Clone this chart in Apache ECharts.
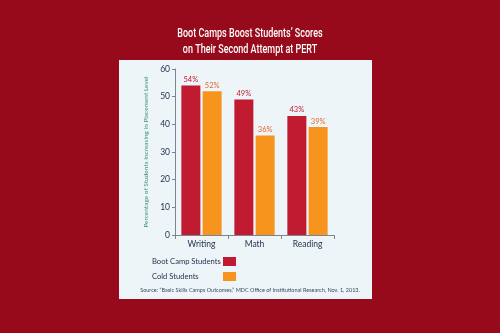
<!DOCTYPE html>
<html>
<head>
<meta charset="utf-8">
<style>
  html, body { margin: 0; padding: 0; background: #960a1b; }
  #chart { width: 500px; height: 333px; }
</style>
<script src="https://cdn.jsdelivr.net/npm/echarts@6/dist/echarts.min.js"></script>
</head>
<body>
<div id="chart"></div>
<script>
// Placement-test results by subject
const subjects = ['Writing', 'Math', 'Reading'];
const bootCamp = [54, 49, 43];
const coldStudents = [52, 36, 39];
const yTicks = [0, 10, 20, 30, 40, 50, 60];
const titleLines = ['Boot Camps Boost Students\u2019 Scores', 'on Their Second Attempt at PERT'];
const seriesNames = ['Boot Camp Students', 'Cold Students'];

const RED = '#c01a30';
const ORANGE = '#f7941d';
const TEXT = '#1f2d4a';
const body = '"Lato", "Open Sans", sans-serif';

const chart = echarts.init(document.getElementById('chart'), null, { renderer: 'canvas' });

// Narrow headline: regular face squeezed horizontally
const titleGraphics = titleLines.map((line, i) => ({
  type: 'text', z: 10,
  x: 250, y: 33.5 + i * 16, scaleX: 0.72,
  style: {
    text: line, x: 0, y: 0, align: 'center', verticalAlign: 'middle',
    fill: '#ffffff', font: '500 12.5px Roboto, sans-serif'
  }
}));

chart.setOption({
  backgroundColor: '#960a1b',
  animation: false,
  graphic: [
    {
      type: 'rect', z: -10,
      shape: { x: 119, y: 60, width: 253, height: 239 },
      style: { fill: '#eef5f8' }
    },
    ...titleGraphics,
    {
      type: 'text', z: 10,
      left: 'center', top: 287,
      style: {
        text: 'Source: \u201cBasic Skills Camps Outcomes,\u201d MDC Office of Institutional Research, Nov. 1, 2013.',
        fill: '#3a4a66', font: '5.5px ' + body
      }
    }
  ],
  // Legend: fixed-width name column followed by a colour swatch, so swatches line up
  legend: {
    orient: 'vertical',
    left: 147, top: 257,
    padding: 0,
    align: 'left',
    icon: 'none',
    itemWidth: 0, itemHeight: 9,
    itemGap: 6,
    formatter: name => '{n|' + name + '}{' + (name === seriesNames[0] ? 'a' : 'b') + '|}',
    textStyle: {
      color: TEXT, fontFamily: body, fontSize: 7.6,
      rich: {
        n: { width: 71, height: 9, lineHeight: 9, align: 'left', color: TEXT, fontFamily: body, fontSize: 7.6 },
        a: { width: 13, height: 9, backgroundColor: RED },
        b: { width: 13, height: 9, backgroundColor: ORANGE }
      }
    },
    data: seriesNames
  },
  grid: { left: 175, right: 166, top: 69, bottom: 98, containLabel: false },
  xAxis: {
    type: 'category',
    data: subjects,
    axisLine: { lineStyle: { color: '#7a8494', width: 1 } },
    axisTick: { show: true, length: 4, lineStyle: { color: '#7a8494' } },
    axisLabel: { color: TEXT, fontFamily: body, fontSize: 8.5, margin: 5 }
  },
  yAxis: {
    type: 'value',
    min: yTicks[0], max: yTicks[yTicks.length - 1], interval: 10,
    name: 'Percentage of Students Increasing in Placement Level',
    nameLocation: 'middle',
    nameGap: 26,
    nameTextStyle: { color: '#3a9474', fontFamily: body, fontSize: 6.5 },
    axisLine: { show: true, lineStyle: { color: '#7a8494', width: 1 } },
    axisTick: { show: true, length: 3, lineStyle: { color: '#7a8494' } },
    splitLine: { show: false },
    axisLabel: { color: TEXT, fontFamily: body, fontSize: 8.5, margin: 5 }
  },
  series: [
    {
      name: seriesNames[0],
      type: 'bar',
      data: bootCamp,
      barWidth: 19,
      barGap: '12%',
      itemStyle: { color: RED },
      label: { show: true, position: 'top', distance: 2, formatter: '{c}%', color: RED, fontFamily: body, fontSize: 7.5 }
    },
    {
      name: seriesNames[1],
      type: 'bar',
      data: coldStudents,
      barWidth: 19,
      itemStyle: { color: ORANGE },
      label: { show: true, position: 'top', distance: 2, formatter: '{c}%', color: '#e8642c', fontFamily: body, fontSize: 7.5 }
    }
  ]
});
</script>
</body>
</html>
